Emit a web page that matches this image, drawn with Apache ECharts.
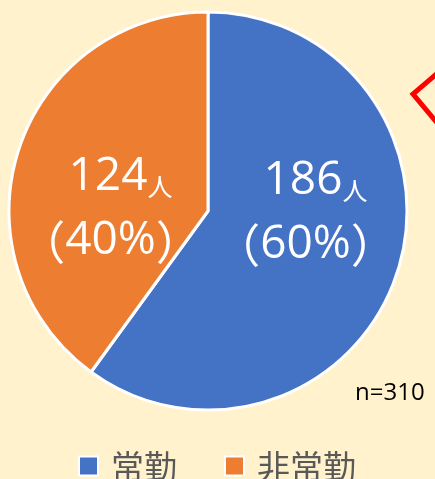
<!DOCTYPE html>
<html>
<head>
<meta charset="utf-8">
<script src="https://cdn.jsdelivr.net/npm/echarts@6/dist/echarts.min.js"></script>
<style>
  html, body { margin: 0; padding: 0; background: #FFF2CC; }
  #chart { width: 435px; height: 479px; }
</style>
</head>
<body>
<div id="chart"></div>
<script>
var categories = ['常勤', '非常勤'];
var counts = [186, 124];
var percents = [60, 40];
var total = 310;
var colors = ['#4472C4', '#ED7D31'];
// label nudges so the text sits where the original had it
var labelOffsets = [[0, -30], [0, 30]];

var chart = echarts.init(document.getElementById('chart'));

var pieData = categories.map(function (name, i) {
  return {
    name: name,
    value: counts[i],
    itemStyle: { color: colors[i] },
    label: { offset: labelOffsets[i] }
  };
});

var option = {
  backgroundColor: '#FFF2CC',
  animation: false,
  title: {
    text: 'n=' + total,
    left: 350,
    top: 376,
    textStyle: {
      fontFamily: 'Open Sans, sans-serif',
      fontSize: 24,
      fontWeight: 'normal',
      color: '#000000'
    }
  },
  legend: {
    top: 441,
    left: 73,
    itemWidth: 19,
    itemHeight: 19,
    itemGap: 47,
    icon: 'rect',
    itemStyle: { borderColor: '#ffffff', borderWidth: 2 },
    textStyle: {
      fontFamily: 'Noto Sans CJK JP',
      fontSize: 33,
      lineHeight: 40,
      color: '#595959',
      padding: [0, 0, 0, 8]
    },
    data: categories
  },
  graphic: [{
    type: 'polyline',
    shape: { points: [[440, 71], [413, 94], [438, 124]] },
    style: { stroke: '#FF0000', lineWidth: 5, fill: null }
  }],
  series: [{
    type: 'pie',
    center: [208, 211],
    radius: [0, 199],
    startAngle: 90,
    clockwise: true,
    itemStyle: { borderColor: '#ffffff', borderWidth: 3 },
    label: {
      position: 'inside',
      color: '#ffffff',
      formatter: function (p) {
        return '{num1|' + counts[p.dataIndex] + '}{unit|人}\n{paren|（}{num|' + percents[p.dataIndex] + '%}{paren|）}';
      },
      rich: {
        num1: { fontFamily: 'Open Sans, sans-serif', fontSize: 46, color: '#ffffff', lineHeight: 64, padding: [0, 0, 0, 20] },
        num: { fontFamily: 'Open Sans, sans-serif', fontSize: 46, color: '#ffffff', lineHeight: 64 },
        unit: { fontFamily: 'Noto Sans CJK JP', fontSize: 25, color: '#ffffff', lineHeight: 64, verticalAlign: 'bottom', padding: [0, 0, 10, 0] },
        paren: { fontFamily: 'Noto Sans CJK JP', fontSize: 46, color: '#ffffff', lineHeight: 64 }
      }
    },
    labelLine: { show: false },
    emphasis: { disabled: true },
    data: pieData
  }]
};

chart.setOption(option);
</script>
</body>
</html>
